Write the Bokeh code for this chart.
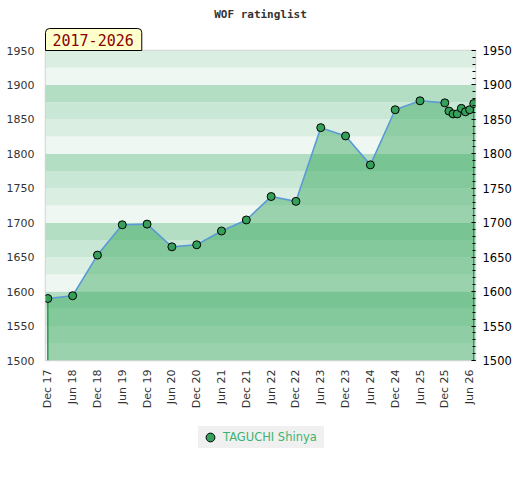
import math
from bokeh.plotting import figure
from bokeh.layouts import column
from bokeh.models import (Range1d, LinearAxis, FixedTicker, SingleIntervalTicker,
                          BoxAnnotation, Title, Legend, LegendItem)
from bokeh.embed import file_html
from bokeh.resources import INLINE

# ---- data ----
dates = ["2017-12", "2018-06", "2018-12", "2019-06", "2019-12", "2020-06",
         "2020-12", "2021-06", "2021-12", "2022-06", "2022-12", "2023-06",
         "2023-12", "2024-06", "2024-12", "2025-06", "2025-12", "2026-01",
         "2026-02", "2026-03", "2026-04", "2026-05", "2026-06", "2026-07"]
ratings = [1590, 1594, 1653, 1697, 1698, 1665, 1668, 1688, 1704, 1738, 1731,
           1838, 1826, 1784, 1864, 1877, 1874, 1862, 1858, 1858, 1866, 1861,
           1864, 1873]
tick_labels = ["Dec 17", "Jun 18", "Dec 18", "Jun 19", "Dec 19", "Jun 20",
               "Dec 20", "Jun 21", "Dec 21", "Jun 22", "Dec 22", "Jun 23",
               "Dec 23", "Jun 24", "Dec 24", "Jun 25", "Dec 25", "Jun 26"]
player = "TAGUCHI Shinya"
title = "WOF ratinglist"
period = "2017-2026"
y_min, y_max = 1500, 1950


def month_index(s):
    y, m = s.split("-")
    return (int(y) - 2017) * 12 + int(m) - 12


mx = [month_index(d) for d in dates]
tick_pos = [i * 6 for i in range(len(tick_labels))]

x_start, x_end = mx[0] - 0.56, mx[-1] + 0.42

marker_style = dict(size=8, fill_color="#35a05a", line_color="black", line_width=1)

p = figure(frame_width=430, frame_height=310, output_backend="svg",
           toolbar_location=None, title=None,
           x_range=Range1d(x_start, x_end), y_range=Range1d(y_min, y_max),
           min_border_left=37, min_border_right=37, min_border_top=10,
           min_border_bottom=60)

p.background_fill_color = "white"
p.border_fill_color = "white"
p.outline_line_color = "#d4d4d4"
p.outline_line_width = 1.5
p.xgrid.visible = False
p.ygrid.visible = False

# background bands
band_colors = {0: "#eef7f2", 25: "#dbeee2", 50: "#c8e7d4", 75: "#b3dec4"}
for lo in range(y_min, y_max, 25):
    p.add_layout(BoxAnnotation(bottom=lo, top=lo + 25, fill_color=band_colors[lo % 100],
                               fill_alpha=1.0, line_color=None, level="underlay"))

# area, edges, line, markers
p.varea(x=mx, y1=y_min, y2=ratings, fill_color="#2da355", fill_alpha=0.44)
p.segment(x0=[mx[0], mx[-1]], y0=[y_min, y_min], x1=[mx[0], mx[-1]],
          y1=[ratings[0], ratings[-1]], line_color="#2e9650", line_width=1.5)
p.line(mx, ratings, line_color="#5b9bd5", line_width=1.6)
p.scatter(mx, ratings, **marker_style)

# axes
xa = p.xaxis[0]
xa.ticker = FixedTicker(ticks=tick_pos)
xa.major_label_overrides = {t: l for t, l in zip(tick_pos, tick_labels)}
xa.major_label_orientation = math.pi / 2
xa.axis_line_color = None
xa.major_tick_line_color = None
xa.minor_tick_line_color = None
xa.major_label_text_font = "DejaVu Sans"
xa.major_label_text_font_size = "11px"
xa.major_label_text_color = "#333333"
xa.major_label_standoff = 3

ya = p.yaxis[0]
ya.ticker = SingleIntervalTicker(interval=50)
ya.axis_line_color = None
ya.major_tick_line_color = None
ya.minor_tick_line_color = None
ya.major_label_text_font = "DejaVu Sans"
ya.major_label_text_font_size = "11px"
ya.major_label_text_color = "#333333"
ya.major_label_standoff = 5

ra = LinearAxis(ticker=SingleIntervalTicker(interval=50, num_minor_ticks=5))
ra.axis_line_color = None
ra.major_tick_in = 4
ra.major_tick_out = 0
ra.minor_tick_in = 3
ra.minor_tick_out = 0
ra.major_tick_line_color = "black"
ra.minor_tick_line_color = "black"
ra.major_label_text_font = "DejaVu Sans"
ra.major_label_text_font_size = "11.5px"
ra.major_label_text_color = "black"
ra.major_label_standoff = 7
p.add_layout(ra, "right")

# period tab (nearest the frame) and main title
tab = Title(text=period, align="left", offset=0, standoff=0,
            text_font="DejaVu Sans Mono", text_font_size="15px",
            text_font_style="normal", text_color="#8b0000",
            background_fill_color="#ffffcc", border_line_color="black",
            border_line_width=1, padding=(7, 8, 5, 5),
            border_radius=dict(top_left=4, top_right=4, bottom_right=0, bottom_left=0))
p.add_layout(tab, "above")
main = Title(text=title, align="center", standoff=11,
             text_font="DejaVu Sans Mono", text_font_size="11px",
             text_font_style="bold", text_color="#333333")
p.add_layout(main, "above")

# legend row (separate strip below the chart)
q = figure(width=504, height=40, output_backend="svg", toolbar_location=None,
           x_axis_location=None, y_axis_location=None, min_border=0,
           x_range=Range1d(0, 1), y_range=Range1d(0, 1))
q.outline_line_color = None
q.background_fill_color = "white"
q.border_fill_color = "white"
q.xgrid.visible = False
q.ygrid.visible = False
# legend swatch: a point that lies outside this strip's ranges, so only the key shows
swatch = q.scatter(x=mx[:1], y=ratings[:1], **marker_style)
legend = Legend(items=[LegendItem(label=player, renderers=[swatch])],
                orientation="horizontal", location=(153, 12),
                background_fill_color="#f0f0f0", background_fill_alpha=1.0,
                border_line_color=None,
                label_text_color="#3cb371", label_text_font="DejaVu Sans",
                label_text_font_size="11.5px", glyph_width=24, glyph_height=22,
                label_height=22, label_width=101, label_standoff=1,
                padding=0, margin=0)
q.add_layout(legend)

open("out.html", "w").write(file_html(column(p, q, spacing=0, margin=(0, 0, 0, 3)), INLINE))
